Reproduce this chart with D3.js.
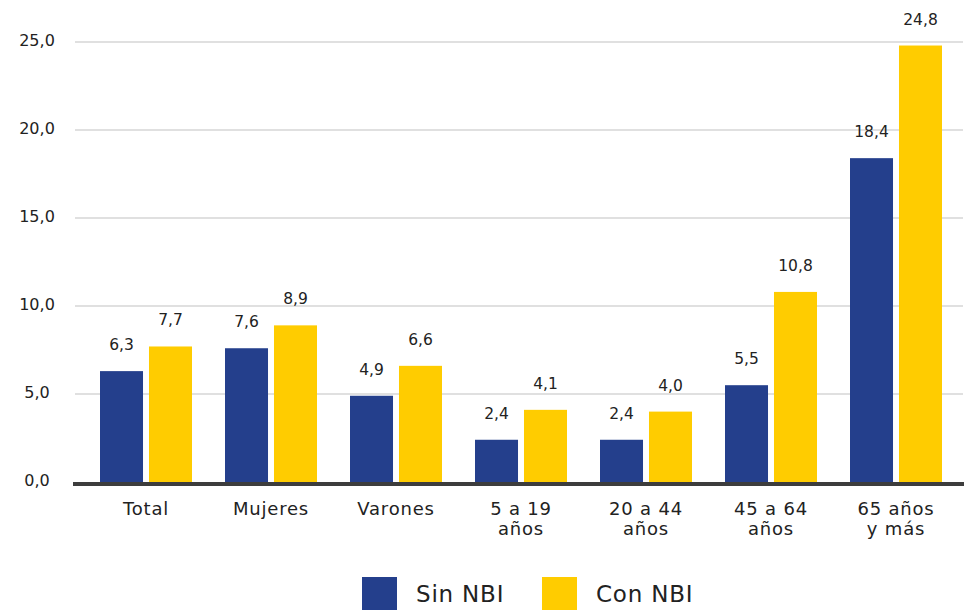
<!DOCTYPE html>
<html>
<head>
<meta charset="utf-8">
<script src="https://cdn.jsdelivr.net/npm/d3@7"></script>
<style>
  body { margin: 0; background: #fff; }
  text { font-family: "DejaVu Sans", sans-serif; fill: #222; }
</style>
</head>
<body>
<div id="chart"></div>
<script>
// data
var categories = ["Total", "Mujeres", "Varones", "5 a 19\naños", "20 a 44\naños", "45 a 64\naños", "65 años\ny más"]
var seriesNames = ["Sin NBI", "Con NBI"]
var sinNBI = [6.3, 7.6, 4.9, 2.4, 2.4, 5.5, 18.4]
var conNBI = [7.7, 8.9, 6.6, 4.1, 4.0, 10.8, 24.8]
var yTicks = [0, 5, 10, 15, 20, 25]

var colors = ["#243F8C", "#FFCC00"]
var width = 964, height = 610

var fmt = function(v) { return v.toFixed(1).replace(".", ",") }

var svg = d3.select("#chart").append("svg")
  .attr("width", width)
  .attr("height", height)

var y = d3.scaleLinear().domain([0, 25]).range([482, 42])

var x0 = d3.scaleBand().domain(categories).range([83.5, 958.5])
var x1 = d3.scaleBand().domain(seriesNames).range([0, 92]).paddingInner(0.122)

// gridlines
svg.append("g").selectAll("line")
  .data(yTicks.filter(function(d) { return d > 0 }))
  .enter().append("line")
  .attr("x1", 75).attr("x2", 963)
  .attr("y1", function(d) { return y(d) })
  .attr("y2", function(d) { return y(d) })
  .style("stroke", "#e0e0e0")
  .style("stroke-width", 2)

// y labels
svg.append("g").selectAll("text")
  .data(yTicks)
  .enter().append("text")
  .attr("x", 37)
  .attr("y", function(d) { return y(d) + 4 })
  .attr("text-anchor", "middle")
  .style("font-size", "16px")
  .text(fmt)

// bars
var rows = categories.map(function(c, i) {
  return { cat: c, vals: [sinNBI[i], conNBI[i]] }
})

var groups = svg.append("g").selectAll("g")
  .data(rows)
  .enter().append("g")
  .attr("transform", function(d) { return "translate(" + (x0(d.cat) + x0.bandwidth() / 2 - 46) + ",0)" })

groups.selectAll("rect")
  .data(function(d) { return d.vals.map(function(v, j) { return { s: seriesNames[j], v: v, j: j } }) })
  .enter().append("rect")
  .attr("x", function(d) { return x1(d.s) })
  .attr("width", x1.bandwidth())
  .attr("y", function(d) { return y(d.v) })
  .attr("height", function(d) { return y(0) - y(d.v) })
  .style("fill", function(d) { return colors[d.j] })

groups.selectAll("text")
  .data(function(d) { return d.vals.map(function(v, j) { return { s: seriesNames[j], v: v } }) })
  .enter().append("text")
  .attr("x", function(d) { return x1(d.s) + x1.bandwidth() / 2 })
  .attr("y", function(d) { return y(d.v) - 21 })
  .attr("text-anchor", "middle")
  .style("font-size", "15.5px")
  .text(function(d) { return fmt(d.v) })

// baseline
svg.append("line")
  .attr("x1", 73).attr("x2", 964)
  .attr("y1", y(0) + 2).attr("y2", y(0) + 2)
  .style("stroke", "#3d3d3d")
  .style("stroke-width", 4)

// category labels
var catLabels = svg.append("g").selectAll("text")
  .data(categories)
  .enter().append("text")
  .attr("text-anchor", "middle")
  .attr("transform", function(d) { return "translate(" + (x0(d) + x0.bandwidth() / 2) + ",515)" })
  .style("font-size", "18px")
  .style("letter-spacing", "0.8px")

catLabels.selectAll("tspan")
  .data(function(d) { return d.split("\n") })
  .enter().append("tspan")
  .attr("x", 0)
  .attr("dy", function(d, i) { return i == 0 ? 0 : 20 })
  .text(function(d) { return d })

// legend
var legendX = [362, 542]
var legend = svg.append("g").selectAll("g")
  .data(seriesNames)
  .enter().append("g")
  .attr("transform", function(d, i) { return "translate(" + legendX[i] + ",577)" })

legend.append("rect")
  .attr("width", 35).attr("height", 35)
  .style("fill", function(d, i) { return colors[i] })

legend.append("text")
  .attr("x", 54).attr("y", 25)
  .style("font-size", "23px")
  .style("letter-spacing", "0.8px")
  .text(function(d) { return d })
</script>
</body>
</html>
